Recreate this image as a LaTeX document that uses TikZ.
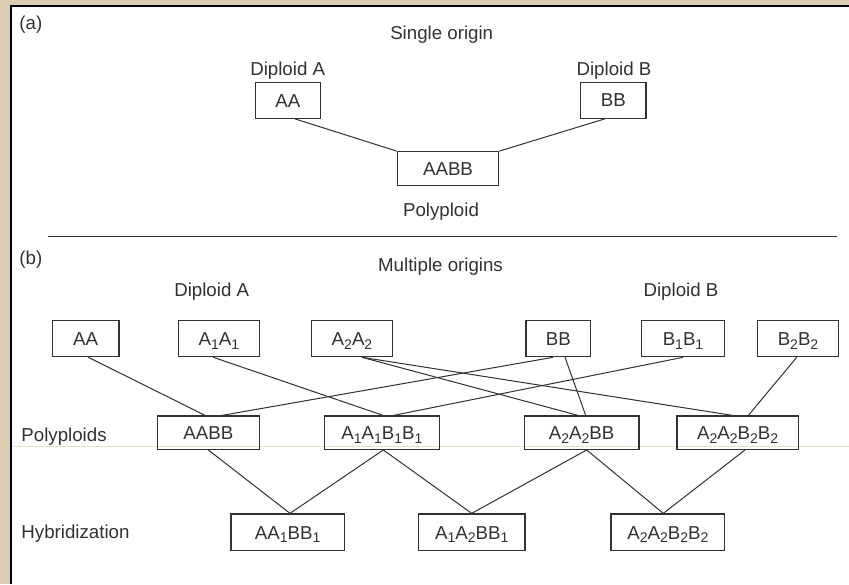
\documentclass[tikz,border=0pt]{standalone}
\usepackage{fontspec}
\setmainfont{Liberation Sans}
\usepackage{xcolor}
\definecolor{paper}{RGB}{219,205,177}
\definecolor{ink}{RGB}{50,50,50}
\newcommand{\TopRow}{338.7}
\newcommand{\PolyRow}{432.7}
\newcommand{\HybRow}{532.3}
\newcommand{\gsub}[1]{\raisebox{-1.9pt}{\fontsize{7}{8}\selectfont#1}}

\begin{document}
\begin{tikzpicture}[x=0.5pt,y=-0.5pt,text=ink,font=\fontsize{9.35}{11}\selectfont,
		box/.style={draw=ink,line width=0.6pt,inner sep=0pt,minimum height=18pt,text height=6.7pt,text depth=0pt},
		tag/.style={anchor=base west,inner sep=0pt},
		link/.style={draw=ink,line width=0.5pt}]
		\useasboundingbox (0,0) rectangle (849,584);
		\fill[paper] (0,0) rectangle (849,584);% Backdrop
		\fill[white] (11,6) rectangle (849,584);% Sheet
		\draw[black,line width=1pt] (11,584) -- (11,6) -- (849,6);
		\draw[paper!60,line width=0.4pt] (12,446.5) -- (849,446.5);

		% (a) single origin
		\node[tag] (labA) at (19,29) {(a)};
		\node[anchor=base] (single) at (441.7,39.3) {Single origin};
		\node[anchor=base] (aDipA) at (287.7,75) {Diploid A};
		\node[anchor=base] (aDipB) at (614,75) {Diploid B};
		\node[box,minimum width=32.5pt] (aAA) at (287.8,100.3) {AA};
		\node[box,minimum width=32.7pt] (aBB) at (613.3,100.2) {BB};
		\node[box,minimum width=50.7pt,minimum height=17pt] (aAABB) at (448,168.7) {AABB};
		\node[anchor=base] (aPoly) at (441,216.7) {Polyploid};

		\draw[link] ([xshift=3.6pt]aAA.south) -- (aAABB.north west);
		\draw[link] (aAABB.north east) -- ([xshift=-4.15pt]aBB.south);

		\coordinate (sepL) at (47.7,236.7);
		\coordinate (sepR) at (837,236.7);
		\draw[ink,line width=0.75pt] (sepL) -- (sepR);% Divider

		% (b) multiple origins
		\node[tag] (labB) at (19,264) {(b)};
		\node[anchor=base] (multi) at (440.5,271.7) {Multiple origins};
		\node[anchor=base] (bDipA) at (211.7,296) {Diploid A};
		\node[anchor=base] (bDipB) at (681,296) {Diploid B};
		\node[tag] (rowPoly) at (21,441.7) {Polyploids};
		\node[tag] (rowHyb) at (21,538.3) {Hybridization};

		\node[box,minimum width=33.35pt] (tAA) at (85.7,\TopRow) {AA};
		\node[box,minimum width=40.5pt] (tA1) at (218.8,\TopRow) {A\gsub{1}A\gsub{1}};
		\node[box,minimum width=40.5pt] (tA2) at (352,\TopRow) {A\gsub{2}A\gsub{2}};
		\node[box,minimum width=32.35pt] (tBB) at (558.3,\TopRow) {BB};
		\node[box,minimum width=41.35pt] (tB1) at (683,\TopRow) {B\gsub{1}B\gsub{1}};
		\node[box,minimum width=40.5pt] (tB2) at (798,\TopRow) {B\gsub{2}B\gsub{2}};

		\node[box,minimum width=51pt,minimum height=16.65pt] (pAABB) at (208.3,\PolyRow) {AABB};
		\node[box,minimum width=57.5pt,minimum height=16.65pt] (pA1B1) at (381.8,\PolyRow) {A\gsub{1}A\gsub{1}B\gsub{1}B\gsub{1}};
		\node[box,minimum width=57.35pt,minimum height=16.65pt] (pA2BB) at (581.7,\PolyRow) {A\gsub{2}A\gsub{2}BB};
		\node[box,minimum width=60.65pt,minimum height=16.65pt] (pA2B2) at (737.7,\PolyRow) {A\gsub{2}A\gsub{2}B\gsub{2}B\gsub{2}};

		\node[box,minimum width=56.65pt,minimum height=18.35pt] (hAA1) at (287.7,\HybRow) {AA\gsub{1}BB\gsub{1}};
		\node[box,minimum width=53.35pt,minimum height=18.35pt] (hA1A2) at (471.7,\HybRow) {A\gsub{1}A\gsub{2}BB\gsub{1}};
		\node[box,minimum width=56.85pt,minimum height=18.35pt] (hA2B2) at (667.8,\HybRow) {A\gsub{2}A\gsub{2}B\gsub{2}B\gsub{2}};

		% diploids to polyploids
		\draw[link] ([xshift=1.3pt]tAA.south) -- ([xshift=-1.5pt]pAABB.north);
		\draw[link] ([xshift=-2.75pt]tA1.south) -- ([xshift=0.75pt]pA1B1.north);
		\draw[link] ([xshift=5pt]tA2.south) -- ([xshift=-1.7pt]pA2BB.north);
		\draw[link] ([xshift=5pt]tA2.south) -- ([xshift=-2.35pt]pA2B2.north);
		\draw[link] ([xshift=-2.65pt]tBB.south) -- ([xshift=6.7pt]pAABB.north);
		\draw[link] ([xshift=3.35pt]tBB.south) -- ([xshift=2pt]pA2BB.north);
		\draw[link] (tB1.south) -- ([xshift=5.75pt]pA1B1.north);
		\draw[link] ([xshift=-0.65pt]tB2.south) -- ([xshift=5.3pt]pA2B2.north);

		% polyploids to hybrids
		\draw[link] (pAABB.south) -- ([xshift=1.15pt]hAA1.north);
		\draw[link] ([xshift=0.75pt]pA1B1.south) -- ([xshift=1.15pt]hAA1.north);
		\draw[link] ([xshift=0.75pt]pA1B1.south) -- (hA1A2.north);
		\draw[link] ([xshift=2.5pt]pA2BB.south) -- (hA1A2.north);
		\draw[link] ([xshift=2.5pt]pA2BB.south) -- ([xshift=-2.25pt]hA2B2.north);
		\draw[link] ([xshift=3.65pt]pA2B2.south) -- ([xshift=-2.25pt]hA2B2.north);
	\end{tikzpicture}
\end{document}
